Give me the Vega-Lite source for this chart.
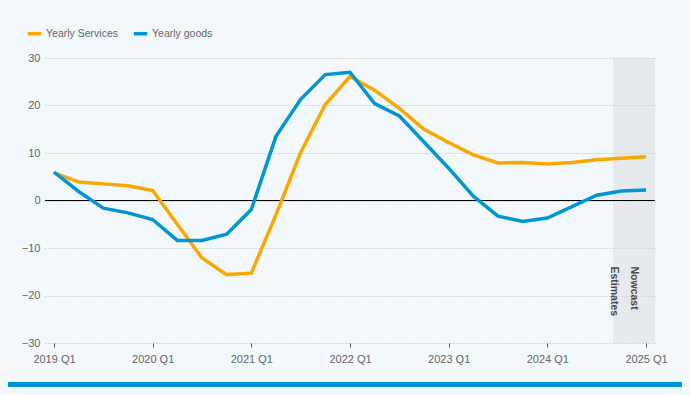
{
  "$schema": "https://vega.github.io/schema/vega-lite/v6.json",
  "background": "#f3f8fc",
  "padding": {"left": 8, "top": 25, "right": 8, "bottom": 8},
  "config": {
    "view": {"stroke": null},
    "font": "Liberation Sans, Arial, sans-serif",
    "concat": {"spacing": 18}
  },
  "vconcat": [
    {
      "width": 610,
      "height": 285,
      "layer": [
        {
          "data": {"values": [{"start": 2024.667, "end": 2025.091}]},
          "mark": {"type": "rect", "fill": "#d9dcde", "opacity": 0.5},
          "encoding": {
            "x": {"field": "start", "type": "quantitative", "scale": {"domain": [2018.909, 2025.091], "nice": false, "zero": false}},
            "x2": {"field": "end"}
          }
        },
        {
          "data": {"values": [{"v": 0}]},
          "mark": {"type": "rule", "color": "#000000", "strokeWidth": 1},
          "encoding": {"y": {"field": "v", "type": "quantitative"}}
        },
        {
          "data": {"values": [
            {"date": 2019.00, "series": "Yearly Services", "value": 5.8},
            {"date": 2019.25, "series": "Yearly Services", "value": 3.9},
            {"date": 2019.50, "series": "Yearly Services", "value": 3.5},
            {"date": 2019.75, "series": "Yearly Services", "value": 3.1},
            {"date": 2020.00, "series": "Yearly Services", "value": 2.1},
            {"date": 2020.25, "series": "Yearly Services", "value": -5.0},
            {"date": 2020.50, "series": "Yearly Services", "value": -12.1},
            {"date": 2020.75, "series": "Yearly Services", "value": -15.6},
            {"date": 2021.00, "series": "Yearly Services", "value": -15.3},
            {"date": 2021.25, "series": "Yearly Services", "value": -3.0},
            {"date": 2021.50, "series": "Yearly Services", "value": 10.1},
            {"date": 2021.75, "series": "Yearly Services", "value": 20.2},
            {"date": 2022.00, "series": "Yearly Services", "value": 26.1},
            {"date": 2022.25, "series": "Yearly Services", "value": 23.2},
            {"date": 2022.50, "series": "Yearly Services", "value": 19.4},
            {"date": 2022.75, "series": "Yearly Services", "value": 15.0},
            {"date": 2023.00, "series": "Yearly Services", "value": 12.2},
            {"date": 2023.25, "series": "Yearly Services", "value": 9.6},
            {"date": 2023.50, "series": "Yearly Services", "value": 7.9},
            {"date": 2023.75, "series": "Yearly Services", "value": 8.0},
            {"date": 2024.00, "series": "Yearly Services", "value": 7.7},
            {"date": 2024.25, "series": "Yearly Services", "value": 8.0},
            {"date": 2024.50, "series": "Yearly Services", "value": 8.6},
            {"date": 2024.75, "series": "Yearly Services", "value": 8.9},
            {"date": 2025.00, "series": "Yearly Services", "value": 9.2},
            {"date": 2019.00, "series": "Yearly goods", "value": 6.0},
            {"date": 2019.25, "series": "Yearly goods", "value": 1.9},
            {"date": 2019.50, "series": "Yearly goods", "value": -1.6},
            {"date": 2019.75, "series": "Yearly goods", "value": -2.6},
            {"date": 2020.00, "series": "Yearly goods", "value": -4.0},
            {"date": 2020.25, "series": "Yearly goods", "value": -8.4},
            {"date": 2020.50, "series": "Yearly goods", "value": -8.4},
            {"date": 2020.75, "series": "Yearly goods", "value": -7.1},
            {"date": 2021.00, "series": "Yearly goods", "value": -1.9},
            {"date": 2021.25, "series": "Yearly goods", "value": 13.5},
            {"date": 2021.50, "series": "Yearly goods", "value": 21.3},
            {"date": 2021.75, "series": "Yearly goods", "value": 26.5},
            {"date": 2022.00, "series": "Yearly goods", "value": 27.0},
            {"date": 2022.25, "series": "Yearly goods", "value": 20.4},
            {"date": 2022.50, "series": "Yearly goods", "value": 17.8},
            {"date": 2022.75, "series": "Yearly goods", "value": 12.3},
            {"date": 2023.00, "series": "Yearly goods", "value": 6.8},
            {"date": 2023.25, "series": "Yearly goods", "value": 0.9},
            {"date": 2023.50, "series": "Yearly goods", "value": -3.3},
            {"date": 2023.75, "series": "Yearly goods", "value": -4.4},
            {"date": 2024.00, "series": "Yearly goods", "value": -3.7},
            {"date": 2024.25, "series": "Yearly goods", "value": -1.3},
            {"date": 2024.50, "series": "Yearly goods", "value": 1.1},
            {"date": 2024.75, "series": "Yearly goods", "value": 2.0},
            {"date": 2025.00, "series": "Yearly goods", "value": 2.2}
          ]},
          "mark": {"type": "line", "strokeWidth": 3.5},
          "encoding": {
            "x": {"field": "date", "type": "quantitative"},
            "y": {"field": "value", "type": "quantitative"},
            "color": {
              "field": "series",
              "type": "nominal",
              "scale": {"domain": ["Yearly Services", "Yearly goods"], "range": ["#f8a800", "#0096d6"]},
              "legend": {
                "title": null,
                "orient": "none",
                "legendX": -19,
                "legendY": -33,
                "direction": "horizontal",
                "symbolType": "stroke",
                "symbolSize": 180,
                "symbolStrokeWidth": 3.5,
                "labelFontSize": 10.5,
                "labelColor": "#666666",
                "labelOffset": 3,
                "columnPadding": 8
              }
            }
          }
        },
        {
          "data": {"values": [{"date": 2024.878, "value": -13.9, "label": "Nowcast\nEstimates"}]},
          "mark": {"type": "text", "angle": 90, "align": "left", "baseline": "middle", "lineBreak": "\n", "lineHeight": 20, "fontWeight": "bold", "fontSize": 10.5, "color": "#4a4a4a"},
          "encoding": {
            "x": {"field": "date", "type": "quantitative"},
            "y": {"field": "value", "type": "quantitative"},
            "text": {"field": "label"}
          }
        }
      ],
      "encoding": {
        "x": {
          "scale": {"domain": [2018.909, 2025.091], "nice": false, "zero": false},
          "axis": {
            "title": null,
            "values": [2019, 2020, 2021, 2022, 2023, 2024, 2025],
            "labelExpr": "datum.value + ' Q1'",
            "grid": false,
            "domain": false,
            "ticks": true,
            "tickSize": 4,
            "tickColor": "#555555",
            "labelColor": "#666666",
            "labelFontSize": 11,
            "labelPadding": 6
          }
        },
        "y": {
          "scale": {"domain": [-30, 30], "nice": false},
          "axis": {
            "title": null,
            "values": [-30, -20, -10, 0, 10, 20, 30],
            "grid": true,
            "gridColor": "#b5b5b5",
            "gridDash": [1, 2],
            "domain": false,
            "ticks": false,
            "labelColor": "#666666",
            "labelFontSize": 11,
            "labelPadding": 5
          }
        }
      }
    },
    {
      "width": 637,
      "height": 5,
      "data": {"values": [{"a": 0, "b": 1}]},
      "mark": {"type": "rect", "color": "#0095d9", "clip": false},
      "encoding": {
        "x": {"field": "a", "type": "quantitative", "scale": {"domain": [0, 1], "range": [-37, 637]}, "axis": null},
        "x2": {"field": "b"}
      }
    }
  ]
}
